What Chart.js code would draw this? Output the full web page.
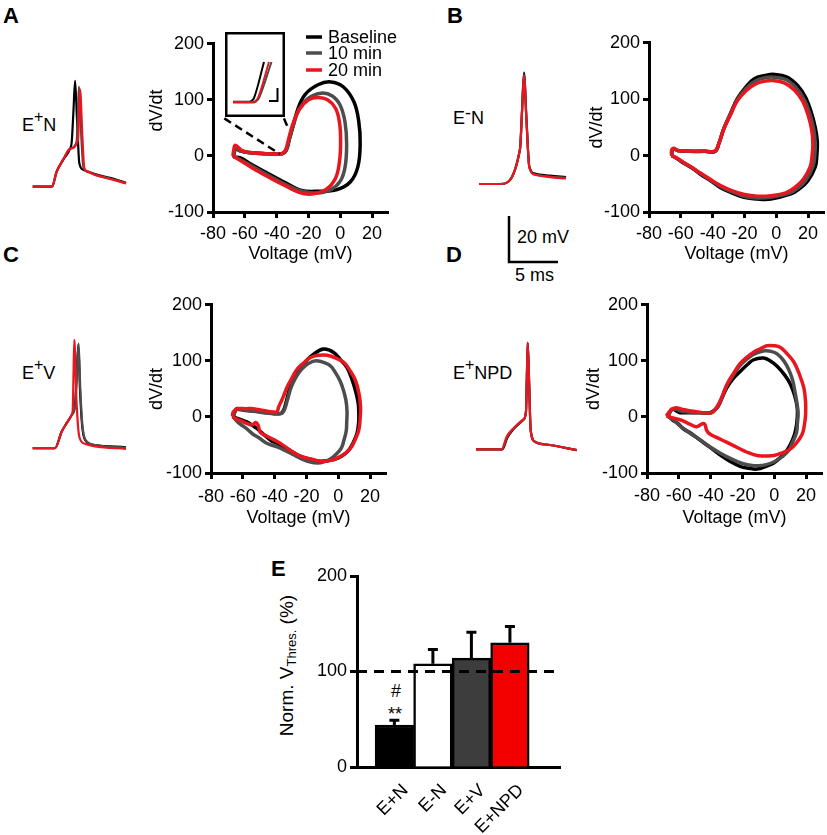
<!DOCTYPE html>
<html><head><meta charset="utf-8">
<script src="https://cdn.jsdelivr.net/npm/chart.js@4/dist/chart.umd.min.js"></script>
<style>
html,body{margin:0;padding:0;background:#fff;overflow:hidden;}
#root{position:relative;width:827px;height:835px;font-family:'Liberation Sans',Arial,sans-serif;color:#000;}
canvas{position:absolute;}
.t{position:absolute;line-height:1;white-space:nowrap;font-size:18px;}
.p{position:absolute;line-height:1;font-weight:bold;font-size:22px;}
.sp{position:relative;top:-9px;font-size:16px;}
.sm{position:relative;top:-5px;}
</style></head><body><div id="root">
<div class="p" style="left:3px;top:5px">A</div>
<div class="p" style="left:447px;top:5px">B</div>
<div class="p" style="left:3px;top:244px">C</div>
<div class="p" style="left:446px;top:244px">D</div>
<div class="p" style="left:271px;top:558px">E</div>
<div class="t" style="left:22px;top:116px">E<span class="sp">+</span>N</div>
<div class="t" style="left:453px;top:109px">E<span class="sm">-</span>N</div>
<div class="t" style="left:22px;top:364px">E<span class="sp">+</span>V</div>
<div class="t" style="left:453px;top:364px">E<span class="sp">+</span>NPD</div>
<div class="t" style="left:517px;top:228px">20 mV</div>
<div class="t" style="left:515px;top:266px">5 ms</div>
<div class="t" style="left:391px;top:682px">#</div>
<div class="t" style="left:388px;top:705px">**</div>
<div class="t" style="left:187px;top:655px;width:200px;text-align:center;font-size:19px;transform:rotate(-90deg);">Norm. V<sub style="font-size:13px;vertical-align:-3px;">Thres.</sub> (%)</div>
</div>
<script>
// ---------- DATA ----------
const seriesNames = ['Baseline', '10 min', '20 min'];
const voltTicks = [-80, -60, -40, -20, 0, 20];
const rateTicks = [-100, 0, 100, 200];
const normTicks = [0, 100, 200];

// AP traces: [time (ms), membrane potential (mV)]
const traceA_base = [[0.28,-68],[2.24,-68],[2.72,-61.5],[3.37,-56.4],[4.08,-51.6],[4.26,-48.4],[4.44,-34.7],[4.6,-22],[4.8,-39],[5.03,-57.7],[5.44,-60.7],[6.63,-62.5],[8.16,-64.2],[9.8,-66.3]];
const traceA_10 = [[0.28,-68],[2.24,-68],[2.72,-61.5],[3.37,-56.4],[4.08,-51.6],[4.75,-48.5],[4.9,-36],[5.0,-24.5],[5.22,-45],[5.45,-59.5],[5.9,-61.5],[6.63,-62.8],[8.16,-64.5],[9.8,-66.5]];
const traceA_20 = [[0.28,-68],[2.24,-68],[2.72,-61.5],[3.37,-56.4],[4.08,-51.6],[4.9,-47.7],[5.0,-37],[5.1,-25.6],[5.36,-47.7],[5.54,-59.9],[5.92,-61.6],[6.63,-62.9],[8.16,-64.7],[9.8,-66.6]];

const traceB_base = [[0.95,-68],[3.13,-68],[5.1,-52.9],[5.31,-35.8],[5.51,-19.6],[5.77,-40.4],[6.05,-60.3],[6.63,-63.5],[8.16,-64.4],[9.8,-65.0]];
const traceB_10 = [[0.95,-68],[3.13,-68],[5.1,-52.9],[5.31,-36.5],[5.51,-20.5],[5.77,-41],[6.05,-60.5],[6.63,-63.8],[8.16,-64.8],[9.8,-65.3]];
const traceB_20 = [[0.95,-68],[3.13,-68],[5.1,-52.9],[5.31,-37],[5.51,-21],[5.77,-41.5],[6.05,-60.8],[6.63,-64],[8.16,-65],[9.8,-65.6]];

const traceC_base = [[0.28,-68],[2.55,-68],[3.23,-60.8],[3.74,-57.1],[4.26,-53.5],[4.59,-49.2],[4.74,-38.3],[4.93,-23.1],[5.1,-42.6],[5.31,-57.8],[5.61,-64.4],[6.63,-66.6],[9.8,-67.6]];
const traceC_10 = [[0.28,-68],[2.55,-68],[3.23,-60.8],[3.74,-57.1],[4.26,-53.5],[4.62,-49],[4.78,-37],[4.96,-22.5],[5.13,-42],[5.34,-57.5],[5.64,-64.2],[6.63,-66.6],[9.8,-67.8]];
const traceC_20 = [[0.28,-68],[2.55,-68],[3.23,-60.8],[3.74,-57.1],[4.26,-53.5],[4.36,-51.3],[4.44,-36],[4.52,-20.9],[4.74,-47],[5.03,-63],[5.61,-66.1],[6.63,-67.2],[9.8,-68.3]];

const traceD_base = [[0.61,-68],[3.3,-68],[3.8,-63],[4.42,-59.3],[5.44,-55.2],[5.71,-51.7],[5.8,-37],[5.89,-21.7],[6.04,-40],[6.19,-59.6],[6.63,-64.7],[8.16,-66.1],[10.89,-68.3]];
const traceD_10 = [[0.61,-68],[3.26,-68],[3.77,-62.7],[4.42,-59.1],[5.44,-55.1],[5.71,-51.7],[5.8,-37],[5.89,-21.7],[6.04,-40],[6.19,-59.6],[6.63,-64.7],[8.16,-66.1],[10.89,-68.3]];
const traceD_20 = [[0.61,-68],[3.23,-68],[3.74,-62.5],[4.42,-58.9],[5.44,-55],[5.71,-51.7],[5.8,-37],[5.89,-21.7],[6.04,-40],[6.19,-59.6],[6.63,-64.7],[8.16,-66.1],[10.89,-68.3]];

// scale bar: 20 mV / 5 ms
const scaleBar = [[3.98,-81.9],[3.98,-101.9],[8.98,-101.9]];

// Inset (enlarged threshold region, arbitrary units)
const insetBase = [[8,15.3],[24,15.3],[27,16.5],[29,19],[39,55]];
const inset10 = [[8,14.5],[29,14.5],[32,16.5],[34,19],[46.5,55]];
const inset20 = [[8,15],[28,15],[31,16.5],[33,19],[44,55]];
const insetBar = [[44,16],[52.5,16],[52.5,29]];
const connectorA1 = [[-72.9,67],[-38,3.5]];
const connectorA2 = [[-35.4,67],[-33,51]];

// Phase plots: [voltage (mV), dV/dt]
const phaseA_base = [[-67,-2],[-66.5,8],[-66,13],[-63,9],[-58,6],[-46,4],[-37,4],[-34,10],[-32,30],[-29.5,55],[-26.5,85],[-22,110],[-14,127],[-6,132],[2,123],[8.5,97],[11.6,62],[12.5,21],[11,-20],[6.4,-46],[-2,-60],[-14,-63],[-25,-61],[-35,-47],[-45.7,-31],[-56,-15],[-62.4,-4],[-67,-2]];
const phaseA_10 = [[-67,-1],[-66.5,9],[-66,15],[-63,9],[-58,6],[-46,4],[-36.5,4],[-34,10],[-32,30],[-29.5,55],[-26,82],[-20,103],[-12,112],[-5,107],[0,90],[3,60],[4,20],[3,-20],[0,-45],[-6,-60],[-15,-66],[-24,-63],[-33,-53],[-43,-38],[-52,-24],[-60,-11],[-65,-4],[-67,-1]];
const phaseA_20 = [[-67.5,0],[-67,10],[-66,19],[-62,10],[-57,6],[-46,4],[-37,4],[-34.5,10],[-32.5,30],[-30,55],[-26,82],[-20,100],[-14,104],[-8,100],[-3,85],[-0.5,60],[0.2,25],[-0.5,-10],[-3,-40],[-9,-60],[-18,-68],[-26,-65],[-34,-54],[-43,-41],[-52,-27],[-60,-13],[-65,-4],[-67.5,0]];

const phaseB_base = [[-65.6,0],[-65.5,8],[-64.5,12],[-62,9],[-55,7.5],[-45,7.5],[-38.5,7.5],[-36,22],[-33,48],[-28.7,75],[-24.5,101],[-19,122],[-14,136],[-7,142],[-1.3,144],[7,139],[13.5,124],[18.5,103],[22,77],[24.5,50],[25.8,25],[25.5,0],[24.5,-20],[19.8,-45],[14,-60],[9.2,-68],[-3.4,-77],[-12,-77],[-20.3,-74],[-28,-66],[-35,-57],[-41,-45],[-47.7,-33],[-53,-22],[-58.3,-13],[-62,-6],[-65.6,0]];
const phaseB_10 = [[-65.7,0],[-65.6,8],[-64.5,12],[-62,9],[-55,7.7],[-45,7.7],[-38.5,7.7],[-36,22],[-33,47.5],[-28.7,74],[-24.5,99],[-19,119],[-13.5,132],[-7,138],[-1.8,139],[6,135],[12.5,120],[17.5,100],[21,75],[23.5,48],[24.5,23],[24.2,0],[23,-20],[18.5,-44],[13,-59],[8,-67],[-3.2,-74],[-12,-75],[-20.2,-72],[-28,-64],[-35,-55],[-41,-44],[-47.7,-32],[-53,-21.5],[-58.3,-12.5],[-62,-5.5],[-65.7,0]];
const phaseB_20 = [[-65.8,0],[-65.8,9],[-64.5,13],[-62,9],[-55,8],[-45,8],[-38.5,8],[-36,22],[-33,47],[-28.7,73],[-24.5,97],[-19,115],[-13,127],[-7,132],[-2.3,133],[5,129],[11.5,116],[16.5,97],[20,72],[22.3,45],[23,20],[22.5,0],[21.3,-20],[17,-42],[11.5,-57],[6,-66],[-3,-71],[-12,-72],[-20,-69],[-28,-62],[-35,-53],[-41,-43],[-47.7,-31],[-53,-21],[-58.3,-12],[-62,-5],[-65.8,0]];

const phaseC_base = [[-65.9,0],[-65,9],[-63.8,14.7],[-60,13],[-57.5,11.8],[-50,9.5],[-44.9,7.6],[-36.5,5.9],[-34.4,11.8],[-32.5,30],[-30.2,53],[-27,72],[-23.9,88],[-19.5,102],[-15.5,112],[-9.2,121],[-2.9,115],[2,100],[5.5,88],[8.5,68],[10.8,47],[12.5,25],[12.9,5.9],[12.8,-10],[11.8,-29],[9.5,-45],[6.6,-59],[2,-70],[-2.9,-76],[-8,-78.5],[-13.4,-79],[-18.5,-75],[-23.9,-70],[-29,-62],[-34.4,-53],[-38.5,-47],[-42.8,-41],[-47,-31],[-51.2,-20.6],[-54.5,-14],[-57.5,-8.8],[-62,-4],[-65.9,0]];
const phaseC_10 = [[-66,0],[-65,9],[-64,13],[-60,12],[-57,11],[-50,9],[-45,7],[-36,6],[-34,12],[-32,30],[-30,50],[-27.5,66],[-25,78],[-22,88],[-19,95],[-14,100],[-8,96],[-4.5,90],[-2,80],[1,65],[3,50],[4.8,30],[5.5,10],[5.3,-10],[5,-25],[3.5,-42],[2,-55],[-1.5,-67],[-5,-75],[-9,-80],[-13,-82],[-18,-80],[-22,-76],[-27,-69],[-32,-62],[-38,-54],[-45,-47],[-49.5,-38],[-54,-30],[-58,-20],[-62,-12],[-64.5,-5],[-66,0]];
const phaseC_20 = [[-66.5,1],[-66,9],[-63.4,14.7],[-58,14.7],[-53.3,14.7],[-47,11.5],[-40.7,8.8],[-38.5,9],[-37.5,17.6],[-35,33],[-32.2,53],[-29,70],[-25.9,85],[-21.5,97],[-17.5,106],[-12,110],[-6.9,110],[-1.5,105],[3.6,97],[7.5,82],[10.8,65],[13,42],[14,18],[13.8,0],[12.9,-23.5],[10.5,-41],[7.7,-55.9],[3,-68],[-2.9,-76],[-7,-78.5],[-11.3,-79],[-17,-75],[-23.9,-70],[-30,-60],[-36.5,-47],[-41,-40],[-45,-34],[-49,-27],[-50.5,-14],[-52,-10],[-54,-14],[-57,-12],[-61,-7],[-64.5,-3],[-66.5,1]];

const phaseD_base = [[-66.8,1.8],[-65.5,9],[-63.7,13.5],[-61,10],[-59.5,7.6],[-52,7.6],[-46.8,7.6],[-40.5,7.6],[-37.5,12],[-35.2,19.4],[-32.5,36],[-29.9,51.7],[-26,68],[-21.5,81],[-17,93],[-13,102],[-6.7,105],[-2,99],[1.8,90.5],[6.5,75],[10.2,58],[12.8,38],[14.4,17],[14.5,0],[13.4,-24],[11.3,-42],[8.1,-59],[4,-72],[-0.3,-82],[-5,-88],[-10.9,-93],[-16,-91.5],[-21.5,-88],[-28,-79],[-34.2,-67.6],[-40.5,-54],[-46.8,-41],[-52,-30],[-57.4,-20.6],[-60.5,-12],[-63.7,-5.9],[-66.8,1.8]];
const phaseD_10 = [[-67,1],[-65.5,9],[-63.5,14],[-60,12],[-58,10],[-50,8],[-45,7],[-40,7],[-37.5,12],[-35,21],[-32.5,38],[-30,55],[-26,73],[-22,90],[-18,101],[-14,110],[-10,115],[-6,118],[-2,117],[2,112],[6,100],[9,85],[11.5,66],[13,45],[14.5,20],[15,5],[14.5,-12],[14,-28],[11.5,-45],[9,-60],[5,-71],[0,-80],[-5,-85],[-10,-87],[-15,-86],[-20,-83],[-26,-76],[-33,-66],[-40,-54],[-46,-42],[-52,-31],[-57,-21],[-60.5,-13],[-63,-6],[-67,1]];
const phaseD_20 = [[-67.9,1.8],[-66,9],[-64.5,14],[-61.6,16.5],[-59.5,15],[-57.4,13.5],[-51,10],[-44.7,7.6],[-39.4,7.6],[-37.5,12],[-35.2,22],[-32.5,38],[-29.9,57],[-26,76],[-21.5,95],[-17,107],[-13,115.6],[-8.5,122],[-4.6,127],[0,127],[3.9,124],[8,113],[12.3,98],[15.5,78],[18.6,51.7],[19.7,25],[19.7,4.7],[19,-13],[17.6,-30.5],[14,-46],[10.2,-57],[5,-64],[-0.3,-68.8],[-5.6,-69.5],[-10.9,-68.8],[-17,-63],[-23.6,-54],[-30,-45],[-36,-37],[-40.5,-30.5],[-42.5,-24],[-43.5,-14],[-44.7,-11.7],[-47,-15],[-48.9,-17.6],[-53,-13],[-57.4,-7],[-62,-3],[-67.9,1.8]];

// Panel E
const categoriesE = ['E+N', 'E-N', 'E+V', 'E+NPD'];
const valuesE = [44, 108, 114, 130];
const errorsE = [5, 15, 27, 17];
const refLineE = [[-0.97,100],[4.3,100]];

// ---------- RENDER ----------
const root = document.getElementById('root');
const P = a => a.map(p => ({x: p[0], y: p[1]}));
const FONT = "'Liberation Sans', Arial, sans-serif";
const FS = 18;
Chart.defaults.font.family = FONT;
Chart.defaults.color = '#000';
const COLORS = ['#000000', '#4d4d4d', '#e8161e'];
const BAR_FILL = ['#000000', '#ffffff', '#3d3d3d', '#f20000'];

function mk(left, top, w, h) {
  const c = document.createElement('canvas');
  c.width = w; c.height = h;
  c.style.left = left + 'px'; c.style.top = top + 'px';
  c.style.width = w + 'px'; c.style.height = h + 'px';
  root.appendChild(c);
  return c.getContext('2d');
}
const base = {responsive: false, animation: false, devicePixelRatio: 1, events: [],
  plugins: {legend: {display: false}, tooltip: {enabled: false}}};

function traceChart(left, top, w, h, xmax, ymin, ymax, series, extra) {
  const ds = series.map((s, i) => ({data: P(s), borderColor: COLORS[i], borderWidth: 2.2, pointRadius: 0,
    showLine: true, cubicInterpolationMode: 'monotone', order: 3 - i}));
  (extra || []).forEach(d => ds.push(d));
  new Chart(mk(left, top, w, h), {type: 'scatter', data: {datasets: ds},
    options: {...base, layout: {padding: 0},
      scales: {x: {type: 'linear', display: false, min: 0, max: xmax},
               y: {type: 'linear', display: false, min: ymin, max: ymax}}}});
}

const tickGrid = len => ({display: true, drawOnChartArea: false, drawTicks: true, tickLength: len, tickWidth: 3, tickColor: '#000'});
const axBorder = {display: true, width: 3, color: '#000'};

function phaseChart(o) {
  const W = 250 + (o.padR || 3), H = 12 + o.plotH + o.xFit;
  const ds = o.series.map((s, i) => ({label: seriesNames[i], data: P(s), borderColor: COLORS[i], borderWidth: 3.5,
    pointRadius: 0, showLine: true, tension: 0.4, order: 3 - i}));
  (o.extra || []).forEach(d => ds.push(d));
  new Chart(mk(o.left, o.top, W, H), {
    type: 'scatter', data: {datasets: ds},
    options: {...base, layout: {padding: {top: 12, right: (o.padR || 3), left: 0, bottom: 0}},
      scales: {
        x: {type: 'linear', min: -80, max: 30,
          afterBuildTicks: s => { s.ticks = voltTicks.map(v => ({value: v})); },
          afterFit: s => { s.height = o.xFit; },
          grid: tickGrid(6), border: axBorder,
          ticks: {autoSkip: false, maxRotation: 0, font: {size: FS}, padding: o.xTickPad, color: '#000'},
          title: {display: true, text: 'Voltage (mV)', font: {size: FS}, color: '#000', padding: {top: 0, bottom: 4}}},
        y: {type: 'linear', min: -100, max: 200,
          afterBuildTicks: s => { s.ticks = rateTicks.map(v => ({value: v})); },
          afterFit: s => { s.width = 75; },
          grid: tickGrid(6), border: axBorder,
          ticks: {autoSkip: false, font: {size: FS}, padding: 3, color: '#000'},
          title: {display: true, text: o.yTitle, font: {size: FS}, color: '#000', padding: {top: o.yTitlePad, bottom: 0}}}
      }},
    plugins: o.plugins || []
  });
}

// Legend for panel A (drawn from dataset labels/colours)
const legendA = {id: 'legendA', afterDraw(chart) {
  const ctx = chart.ctx; ctx.save();
  ctx.font = FS + 'px ' + FONT; ctx.textBaseline = 'middle'; ctx.fillStyle = '#000';
  const rows = [7, 23, 40];
  chart.data.datasets.slice(0, 3).forEach((d, i) => {
    ctx.strokeStyle = d.borderColor; ctx.lineWidth = 3.5;
    ctx.beginPath(); ctx.moveTo(168, rows[i]); ctx.lineTo(184, rows[i]); ctx.stroke();
    ctx.fillText(d.label, 190, rows[i] + 1);
  });
  ctx.restore();
}};

const dashDs = arr => ({data: P(arr), borderColor: '#000', borderWidth: 2.5, borderDash: [8, 5], pointRadius: 0, showLine: true, tension: 0, order: 0});

// Phase plots
phaseChart({left: 138, top: 30, plotH: 170, xFit: 57, xTickPad: 5, yTitlePad: 8, padR: 18,
  yTitle: '\u00a0\u00a0\u00a0\u00a0\u00a0\u00a0\u00a0dV/dt',
  series: [phaseA_base, phaseA_10, phaseA_20], extra: [dashDs(connectorA1), dashDs(connectorA2)], plugins: [legendA]});
phaseChart({left: 574, top: 29, plotH: 171, xFit: 57, xTickPad: 5, yTitlePad: 12, yTitle: 'dV/dt',
  series: [phaseB_base, phaseB_10, phaseB_20]});
phaseChart({left: 136, top: 291, plotH: 170, xFit: 60, xTickPad: 7, yTitlePad: 10, yTitle: 'dV/dt',
  series: [phaseC_base, phaseC_10, phaseC_20]});
phaseChart({left: 572, top: 291, plotH: 170, xFit: 60, xTickPad: 6, yTitlePad: 11, yTitle: 'dV/dt',
  series: [phaseD_base, phaseD_10, phaseD_20]});

// Traces
traceChart(30, 70, 100, 125, 100 / 9.8, -71.65, -17.3, [traceA_base, traceA_10, traceA_20]);
traceChart(470, 60, 110, 210, 110 / 9.8, -105.4, -14.1, [traceB_base, traceB_10, traceB_20],
  [{data: P(scaleBar), borderColor: '#000', borderWidth: 2.5, pointRadius: 0, showLine: true, tension: 0, order: 0}]);
traceChart(30, 330, 100, 125, 100 / 9.8, -70.95, -16.6, [traceC_base, traceC_10, traceC_20]);
traceChart(470, 330, 115, 125, 115 / 9.8, -70.45, -16.1, [traceD_base, traceD_10, traceD_20]);

// Inset of panel A
const boxPlugin = {id: 'box', afterDraw(chart) {
  const a = chart.chartArea, ctx = chart.ctx; ctx.save();
  ctx.strokeStyle = '#000'; ctx.lineWidth = 2.5;
  ctx.strokeRect(a.left + 1.25, a.top + 1.25, a.right - a.left - 2.5, a.bottom - a.top - 2.5);
  ctx.restore();
}};
(function () {
  const ds = [insetBase, inset10, inset20].map((s, i) => ({data: P(s), borderColor: COLORS[i], borderWidth: 2,
    pointRadius: 0, showLine: true, cubicInterpolationMode: 'monotone', order: 3 - i}));
  ds.push({data: P(insetBar), borderColor: '#000', borderWidth: 2, pointRadius: 0, showLine: true, tension: 0, order: 0});
  new Chart(mk(225, 32, 60, 85), {type: 'scatter', data: {datasets: ds},
    options: {...base, layout: {padding: 0},
      scales: {x: {type: 'linear', display: false, min: 0, max: 60}, y: {type: 'linear', display: false, min: 0, max: 85}}},
    plugins: [boxPlugin]});
})();

// Panel E bar chart
const errPlugin = {id: 'err', afterDatasetsDraw(chart) {
  const meta = chart.getDatasetMeta(0), ys = chart.scales.y, ctx = chart.ctx;
  ctx.save(); ctx.strokeStyle = '#000'; ctx.lineWidth = 3;
  meta.data.forEach((bar, i) => {
    const x = bar.x, y0 = ys.getPixelForValue(valuesE[i]), y1 = ys.getPixelForValue(valuesE[i] + errorsE[i]);
    ctx.beginPath(); ctx.moveTo(x, y0); ctx.lineTo(x, y1); ctx.moveTo(x - 5, y1); ctx.lineTo(x + 5, y1); ctx.stroke();
  });
  ctx.restore();
}};
new Chart(mk(250, 560, 320, 275), {
  type: 'bar',
  data: {datasets: [
    {type: 'bar', data: valuesE.map((v, i) => ({x: i, y: v})), backgroundColor: BAR_FILL, borderColor: '#000',
     borderWidth: 2.5, barPercentage: 1, categoryPercentage: 1, order: 2},
    {type: 'line', data: P(refLineE), borderColor: '#000', borderWidth: 3, borderDash: [10, 7], pointRadius: 0, order: 1}
  ]},
  options: {...base, layout: {padding: {top: 16, right: 10, left: 0, bottom: 0}},
    scales: {
      x: {type: 'linear', min: -0.97, max: 4.3, offset: false,
        afterBuildTicks: s => { s.ticks = categoriesE.map((c, i) => ({value: i})); },
        afterFit: s => { s.height = 68; },
        grid: {display: false}, border: axBorder,
        ticks: {autoSkip: false, minRotation: 45, maxRotation: 45, padding: 5, labelOffset: 11, font: {size: FS}, color: '#000',
          callback: v => categoriesE[v]}},
      y: {type: 'linear', min: 0, max: 200,
        afterBuildTicks: s => { s.ticks = normTicks.map(v => ({value: v})); },
        afterFit: s => { s.width = 107; },
        grid: tickGrid(7), border: axBorder,
        ticks: {autoSkip: false, font: {size: FS}, padding: 3, color: '#000'}}
    }},
  plugins: [errPlugin]
});
</script>
</body></html>
